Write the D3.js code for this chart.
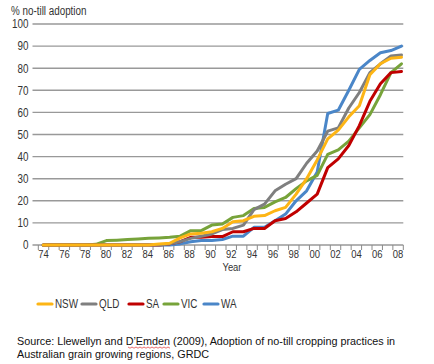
<!DOCTYPE html>
<html>
<head>
<meta charset="utf-8">
<script src="https://cdn.jsdelivr.net/npm/d3@7"></script>
<style>
  html, body { margin: 0; padding: 0; background: #fff; }
  svg { display: block; }
</style>
</head>
<body>
<script>
// ---------- data ----------
const years = d3.range(1974, 2009);
const xTickLabels = ["74","76","78","80","82","84","86","88","90","92","94","96","98","00","02","04","06","08"];
const yTickValues = [0,10,20,30,40,50,60,70,80,90,100];
const seriesNames = ["NSW","QLD","SA","VIC","WA"];
const seriesColors = ["#FDB515","#7F7F7F","#C00000","#77A33A","#4A86C8"];

//              74 75 76 77 78 79 80 81 82 83 84 85  86  87  88  89  90  91  92  93  94  95  96  97  98  99  00  01  02  03  04  05  06  07  08
const nsw = [   0, 0, 0, 0, 0, 0, 0, 0, 0, 0, 0,0.5,0.8,3.2,5.0,5.3,6.0,7.5,10.5,11,13,13.3,15.5,17,23,30,38.5,48,52,58,63,77,82,84.5,85];
const qld = [   0, 0, 0, 0, 0, 0, 0, 0, 0, 0, 0,0,0.5,1.5,3,4,5,7,7.5,9,16,18.5,24.5,27.5,30,37,42.5,51.5,53,62,69,78,82,85.5,86];
const sa  = [   0, 0, 0, 0, 0, 0, 0, 0, 0, 0, 0,0,0.5,1.5,3.5,3.5,3.8,3.8,6,6,7.5,7.5,11,12,15,19,23,35,39,45,54,65,73,78,78.5];
const vic = [   0, 0, 0, 0, 0,0.3,2,2.2,2.5,2.7,3,3.2,3.5,4,6.5,6.5,9,9.5,12.5,13.3,16.5,17,19.5,21.5,25.5,29,31.5,41,43,47,53,59,68,78,82];
const wa  = [   0, 0, 0, 0, 0, 0, 0, 0, 0, 0, 0,0,0,0.5,1.5,2,2,2.5,4,4,8,8,11,14,20,24.5,33,59.5,61,70,79.5,83.5,87,88,90];
const seriesValues = [nsw, qld, sa, vic, wa];

// ---------- layout ----------
const W = 434, H = 364;
const plotLeft = 38.3, plotRight = 403.3, yTop = 24, yZero = 245;
const axisFont = '"Liberation Sans",Arial,sans-serif';
const textFont = '"Liberation Sans",Arial,sans-serif';

const svg = d3.select("body").append("svg").attr("width", W).attr("height", H);

// emulate a narrow (condensed) face by compressing glyphs horizontally
function narrow(sel, factor = 0.82) {
  sel.each(function () {
    const w = this.getComputedTextLength();
    if (w > 0) d3.select(this).attr("textLength", w * factor).attr("lengthAdjust", "spacingAndGlyphs");
  });
}

const y = d3.scaleLinear().domain([0, 100]).range([yZero, yTop]);
const xBand = d3.scaleBand().domain(years).range([plotLeft, plotRight]);
const xPt = d3.scalePoint().domain(years).range([43.2, 401.5]);

// gridlines
svg.append("g").selectAll("line").data(yTickValues).join("line")
  .attr("x1", 32.5).attr("x2", plotRight)
  .attr("y1", d => y(d)).attr("y2", d => y(d))
  .attr("stroke", "#999").attr("stroke-width", 1.4);

// y axis labels
const yAxis = svg.append("g").attr("transform", `translate(28.5,0)`)
  .call(d3.axisLeft(y).tickValues(yTickValues).tickSize(0).tickPadding(0));
yAxis.select(".domain").remove();
yAxis.selectAll("text").attr("font-family", axisFont).attr("font-size", 12).attr("fill", "#333").call(narrow);

// x axis boundary ticks
const boundaries = years.map(yv => xBand(yv)).concat([plotRight]);
svg.append("g").selectAll("line").data(boundaries).join("line")
  .attr("x1", d => d).attr("x2", d => d)
  .attr("y1", yZero).attr("y2", yZero + 5)
  .attr("stroke", "#8a8a8a").attr("stroke-width", 1);

// x labels
const labelYears = years.filter((d, i) => i % 2 === 0);
const xAxis = svg.append("g").attr("transform", `translate(0,${yZero + 3})`)
  .call(d3.axisBottom(xBand).tickValues(labelYears).tickSize(0).tickPadding(2)
    .tickFormat((d, i) => xTickLabels[i]));
xAxis.select(".domain").remove();
xAxis.selectAll("text").attr("font-family", axisFont).attr("font-size", 11.5).attr("fill", "#333").call(narrow);

svg.append("text").attr("x", 232).attr("y", 271).attr("text-anchor", "middle")
  .attr("font-family", axisFont).attr("font-size", 11.5).attr("fill", "#333").text("Year").call(narrow);

svg.append("text").attr("x", 11).attr("y", 14.5)
  .attr("font-family", axisFont).attr("font-size", 12).attr("fill", "#333").text("% no-till adoption").call(narrow);

// lines (first series on top, as in the original)
const line = d3.line().x((d, i) => xPt(years[i])).y(d => y(d));
const order = [4, 3, 2, 1, 0];
svg.append("g").selectAll("path").data(order).join("path")
  .attr("d", k => line(seriesValues[k]))
  .attr("fill", "none").attr("stroke", k => seriesColors[k])
  .attr("stroke-width", 3).attr("stroke-linejoin", "round").attr("stroke-linecap", "round");

// legend
const legendX = [37, 81, 128, 163, 203];
const lg = svg.append("g").attr("transform", "translate(0,304)");
seriesNames.forEach((name, k) => {
  lg.append("line").attr("x1", legendX[k] + 1).attr("x2", legendX[k] + 15)
    .attr("y1", 0).attr("y2", 0).attr("stroke", seriesColors[k]).attr("stroke-width", 3.2)
    .attr("stroke-linecap", "round");
  lg.append("text").attr("x", legendX[k] + 18).attr("y", 4.3)
    .attr("font-family", axisFont).attr("font-size", 12).attr("fill", "#333").text(name).call(narrow);
});

// source
const src = svg.append("text").attr("font-family", textFont).attr("font-size", 10.8).attr("fill", "#111");
src.append("tspan").attr("x", 17).attr("y", 345).text("Source: Llewellyn and D\u2019Emden (2009), Adoption of no-till cropping practices in");
src.append("tspan").attr("x", 17).attr("y", 358).text("Australian grain growing regions, GRDC");

// spell-check squiggle under D'Emden
const sq = d3.range(0, 22).map(i => [128 + i * 2, 347 + (i % 2 ? 1.2 : 0)]);
svg.append("path").attr("d", d3.line()(sq)).attr("fill", "none").attr("stroke", "#e03030").attr("stroke-width", 0.7);
</script>
</body>
</html>
